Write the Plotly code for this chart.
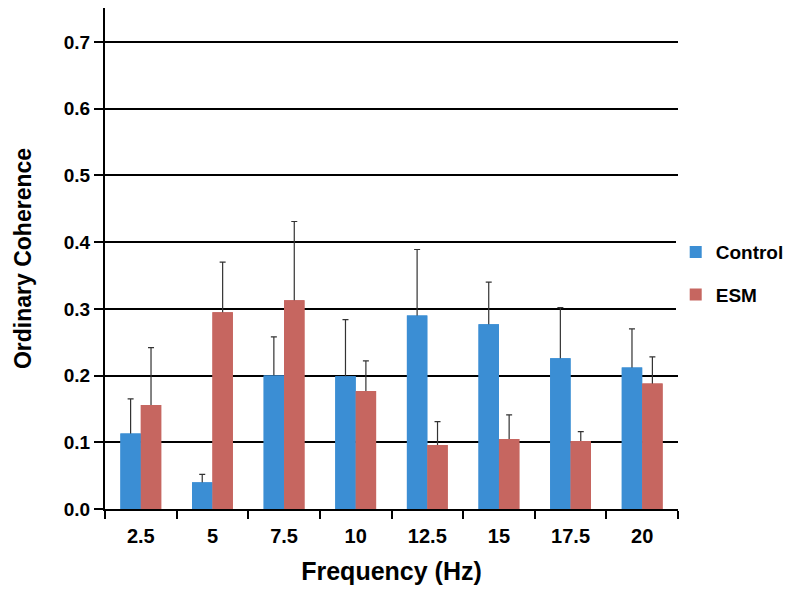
import plotly.graph_objects as go

freqs = ["2.5", "5", "7.5", "10", "12.5", "15", "17.5", "20"]
control = [0.113, 0.040, 0.200, 0.199, 0.290, 0.277, 0.226, 0.212]
control_top = [0.165, 0.052, 0.258, 0.284, 0.389, 0.340, 0.302, 0.270]
esm = [0.156, 0.295, 0.313, 0.177, 0.096, 0.105, 0.102, 0.188]
esm_top = [0.242, 0.370, 0.431, 0.222, 0.131, 0.141, 0.116, 0.228]
y_ticks = [0.0, 0.1, 0.2, 0.3, 0.4, 0.5, 0.6, 0.7]

FONT = "Liberation Sans, Arial, sans-serif"
BLUE = "#3B8ED4"
RED = "#C66660"
CAP_HIDE = 0.006  # tucks the lower cap inside the bar so only the upper whisker shows


def err(vals, tops):
    return dict(type="data", symmetric=False,
                array=[t - v for v, t in zip(vals, tops)],
                arrayminus=[min(CAP_HIDE, v / 2) for v in vals],
                color="#333333", thickness=1.2, width=3)


fig = go.Figure()
# bars with upward error bars
fig.add_trace(go.Bar(x=freqs, y=control, name="Control", marker_color=BLUE,
                     marker_line_width=0, error_y=err(control, control_top),
                     legendgroup="c", offsetgroup="c"))
fig.add_trace(go.Bar(x=freqs, y=esm, name="ESM", marker_color=RED,
                     marker_line_width=0, error_y=err(esm, esm_top),
                     legendgroup="e", offsetgroup="e"))
# same bars again on top, hiding the lower error-bar caps
fig.add_trace(go.Bar(x=freqs, y=control, name="Control", marker_color=BLUE,
                     marker_line_width=0, showlegend=False, hoverinfo="skip",
                     legendgroup="c", offsetgroup="c"))
fig.add_trace(go.Bar(x=freqs, y=esm, name="ESM", marker_color=RED,
                     marker_line_width=0, showlegend=False, hoverinfo="skip",
                     legendgroup="e", offsetgroup="e"))

# page body has an 8px default margin, so the figure is sized to compensate
fig.update_layout(
    width=793, height=581,
    margin=dict(l=97, r=123, t=0, b=80, autoexpand=False),
    paper_bgcolor="white", plot_bgcolor="white",
    barmode="group", bargap=0.43, bargroupgap=0,
    font=dict(family=FONT, color="black", size=19, weight="bold"),
    legend=dict(x=0.996, xanchor="left", y=0.47, yanchor="middle",
                traceorder="grouped", tracegroupgap=15,
                font=dict(size=19, weight="bold"), itemwidth=30),
    xaxis=dict(
        type="category", showline=True, linecolor="black", linewidth=2,
        ticks="outside", tickson="boundaries", ticklen=8, tickwidth=2,
        tickcolor="black", showgrid=False, automargin=False,
        tickfont=dict(size=20, weight="bold"), ticklabelstandoff=8,
        title=dict(text="Frequency (Hz)", font=dict(size=25, weight="bold"),
                   standoff=16),
    ),
    yaxis=dict(
        range=[0, 0.751], tickvals=y_ticks,
        ticktext=[f"{v:.1f}" for v in y_ticks],
        showline=True, linecolor="black", linewidth=2,
        ticks="outside", ticklen=9, tickwidth=2, tickcolor="black",
        showgrid=True, gridcolor="black", gridwidth=2, zeroline=False,
        automargin=False,
        tickfont=dict(size=19, weight="bold"), ticklabelstandoff=0,
        title=dict(text="Ordinary Coherence", font=dict(size=23, weight="bold"),
                   standoff=26),
    ),
)

fig.write_html("out.html")
